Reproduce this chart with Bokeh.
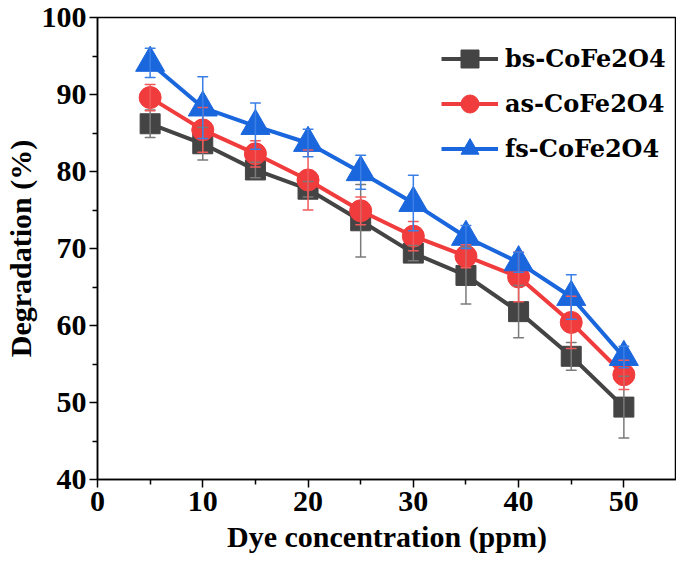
from bokeh.plotting import figure
from bokeh.models import Range1d, Legend, LegendItem, FixedTicker, ColumnDataSource
from bokeh.embed import file_html
from bokeh.resources import INLINE

conc = [5, 10, 15, 20, 25, 30, 35, 40, 45, 50]
bs_vals = [86.2, 83.6, 80.2, 77.7, 73.6, 69.4, 66.5, 61.8, 56.0, 49.4]
bs_err = [1.8, 2.1, 1.0, 1.0, 4.7, 1.0, 3.7, 3.4, 1.8, 4.0]
as_vals = [89.6, 85.4, 82.3, 78.9, 74.9, 71.6, 69.0, 66.3, 60.4, 53.6]
as_err = [1.7, 2.9, 1.7, 3.9, 1.8, 1.9, 1.5, 3.2, 3.4, 1.9]
fs_vals = [94.1, 88.3, 85.9, 83.7, 79.9, 75.9, 71.5, 68.2, 63.7, 55.9]
fs_err = [1.9, 4.0, 3.0, 1.8, 2.2, 3.6, 1.5, 1.3, 2.9, 1.4]
series_names = ["bs-CoFe2O4", "as-CoFe2O4", "fs-CoFe2O4"]
x_ticks = [0, 10, 20, 30, 40, 50]
y_ticks = [40, 50, 60, 70, 80, 90, 100]

FONT = "Liberation Serif"

p = figure(width=676, height=560, output_backend="svg", toolbar_location=None,
           x_range=Range1d(0, 55), y_range=Range1d(40, 100),
           min_border_left=93, min_border_top=17, min_border_right=0, min_border_bottom=81)
p.grid.visible = False
p.outline_line_color = "black"
p.outline_line_width = 1.5
p.background_fill_color = "white"
p.border_fill_color = "white"

for ax in (p.xaxis[0], p.yaxis[0]):
    ax.axis_line_width = 1.5
    ax.major_tick_line_width = 1.5
    ax.minor_tick_line_width = 1.5
    ax.major_tick_in = 0
    ax.major_tick_out = 8
    ax.minor_tick_in = 0
    ax.minor_tick_out = 5
    ax.major_label_text_font = FONT
    ax.major_label_text_font_style = "bold"
    ax.major_label_text_font_size = "30px"
    ax.major_label_text_color = "black"
    ax.axis_label_text_font = FONT
    ax.axis_label_text_font_style = "bold"
    ax.axis_label_text_font_size = "30px"
    ax.axis_label_text_color = "black"

p.xaxis.ticker = FixedTicker(ticks=x_ticks, minor_ticks=[5, 15, 25, 35, 45])
p.yaxis.ticker = FixedTicker(ticks=y_ticks, minor_ticks=[45, 55, 65, 75, 85, 95])
p.xaxis.axis_label = "Dye concentration (ppm)"
p.yaxis.axis_label = "Degradation (%)"
p.xaxis.major_label_standoff = 4
p.xaxis.axis_label_standoff = 6
p.yaxis.major_label_standoff = 3
p.yaxis.axis_label_standoff = 2

specs = [
    (bs_vals, bs_err, "#444444", "#7a7a7a", "square", 20),
    (as_vals, as_err, "#f03c3c", "#f05a5a", "circle", 22),
    (fs_vals, fs_err, "#1a66dd", "#3a7fe6", "triangle", 29),
]

items = []
err_data = []
for (vals, errs, col, ecol, marker, size), name in zip(specs, series_names):
    src = ColumnDataSource(dict(x=conc, y=vals,
                                lo=[v - e for v, e in zip(vals, errs)],
                                hi=[v + e for v, e in zip(vals, errs)]))
    ln = p.line("x", "y", source=src, line_color=col, line_width=4)
    sc = p.scatter("x", "y", source=src, marker=marker, size=size,
                   fill_color=col, line_color=col, line_width=1)
    items.append(LegendItem(label=name, renderers=[ln, sc]))
    err_data.append((src, ecol))

for src, ecol in err_data:
    p.segment(x0="x", y0="lo", x1="x", y1="hi", source=src, line_color=ecol, line_width=1.5)
    p.rect(x="x", y="lo", width=10, height=0.0001, width_units="screen", source=src,
           line_color=ecol, line_width=1.5, fill_alpha=0)
    p.rect(x="x", y="hi", width=10, height=0.0001, width_units="screen", source=src,
           line_color=ecol, line_width=1.5, fill_alpha=0)

legend = Legend(items=items, location=(344, 308), glyph_width=57, glyph_height=45,
                label_height=45, spacing=0, padding=0, margin=0, label_standoff=7,
                label_text_font="DejaVu Serif", label_text_font_style="bold",
                label_text_font_size="24px", label_text_color="black",
                border_line_alpha=0, background_fill_alpha=0)
p.add_layout(legend, "center")

open("out.html", "w").write(file_html(p, INLINE))
